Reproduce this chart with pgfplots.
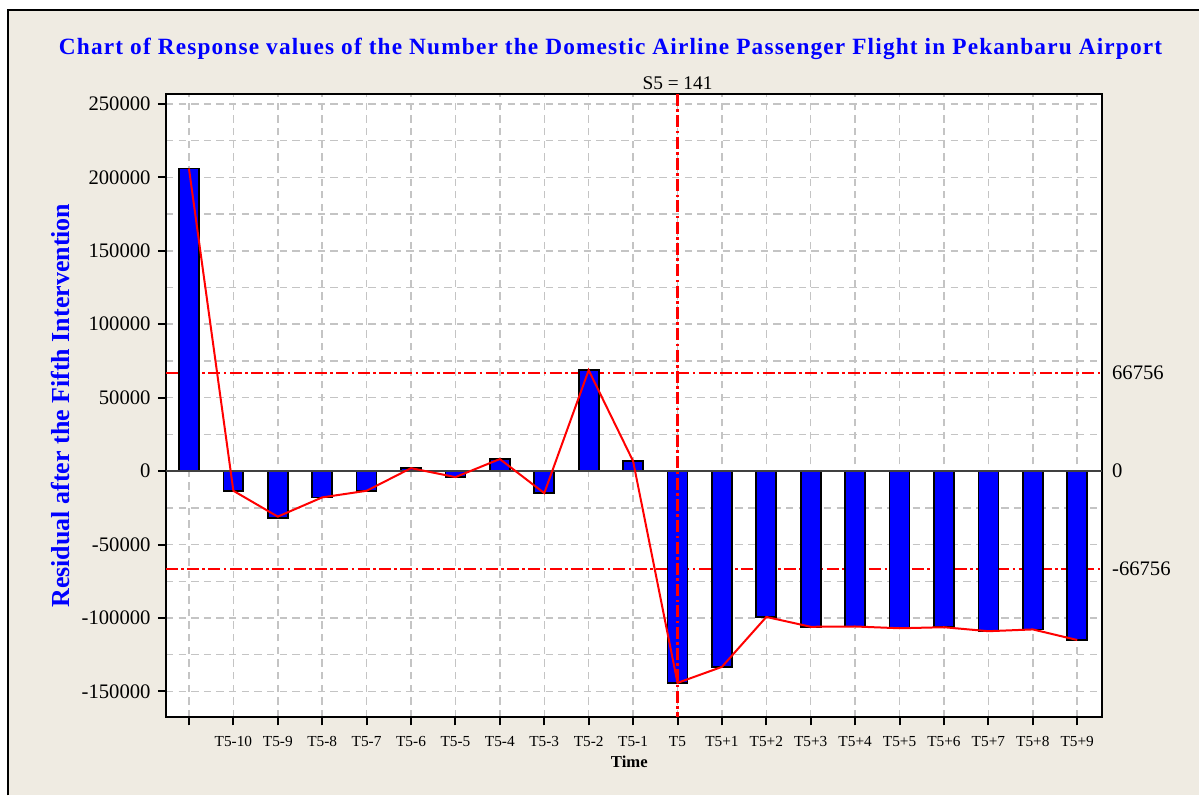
\documentclass[border=0pt]{standalone}
\usepackage{pgfplots}
\pgfplotsset{compat=1.18}
\usepackage{fontspec}
\setmainfont{Liberation Serif}
\definecolor{bgbeige}{RGB}{239,235,226}
\definecolor{gridgray}{RGB}{196,196,196}
\definecolor{zeroline}{RGB}{64,64,64}
\definecolor{pured}{RGB}{255,0,0}
\begin{document}
\begin{tikzpicture}[x=0.75pt,y=0.75pt]
\fill[white] (0,0) rectangle (1200,796);
\fill[bgbeige] (8,0) rectangle (1200,786);
\draw[black, line width=1.5pt] (8,0) -- (8,786) -- (1200,786);
\useasboundingbox (0,0) rectangle (1200,796);
\begin{axis}[
  at={(124.5pt,58.5pt)}, anchor=south west,
  width=702.75pt, height=468pt, scale only axis,
  xmin=-0.52, xmax=20.56, ymin=-167700, ymax=256800,
  axis background/.style={fill=white},
  axis line style={black, line width=1.5pt},
  xtick={0,...,20},
  xticklabels={,T5-10,T5-9,T5-8,T5-7,T5-6,T5-5,T5-4,T5-3,T5-2,T5-1,T5,T5+1,T5+2,T5+3,T5+4,T5+5,T5+6,T5+7,T5+8,T5+9},
  ytick={-150000,-100000,...,250000},
  minor ytick={-125000,-75000,-25000,25000,75000,125000,175000,225000},
  minor tick length=0pt,
  major tick length=6pt,
  tick align=outside,
  xtick pos=bottom, ytick pos=left,
  tick style={black, line width=1.5pt},
  grid=both,
  major grid style={gridgray, line width=1.1pt, dash pattern=on 5.5pt off 4pt},
  minor grid style={gridgray, line width=1.1pt, dash pattern=on 5.5pt off 4pt},
  scaled y ticks=false,
  /pgf/number format/.cd, 1000 sep={}, fixed, assume math mode=true,
  /pgfplots/.cd,
  yticklabel style={font=\fontsize{15.5pt}{18pt}\selectfont, xshift=-2pt},
  xticklabel style={font=\fontsize{11.5pt}{13pt}\selectfont, yshift=-5pt},
  clip=false,
]
\draw[pured, line width=1.4pt, dash pattern=on 9pt off 2.5pt on 2pt off 2.5pt] (axis cs:-0.52,66756) -- (axis cs:20.56,66756);
\draw[pured, line width=1.4pt, dash pattern=on 9pt off 2.5pt on 2pt off 2.5pt] (axis cs:-0.52,-66756) -- (axis cs:20.56,-66756);
\addplot[ybar, bar width=15pt, bar shift=0pt, fill=blue, draw=black, line width=1.3pt] coordinates {
(0,206000) (1,-13400) (2,-32000) (3,-17900) (4,-13400) (5,2000) (6,-4100) (7,8200) (8,-15000) (9,68700) (10,6800)
(11,-144200) (12,-133300) (13,-99300) (14,-106000) (15,-105800) (16,-107000) (17,-106300) (18,-109000) (19,-107800) (20,-115000)
};
\draw[zeroline, line width=1.5pt] (axis cs:-0.52,0) -- (axis cs:20.56,0);
\draw[pured, line width=1.6pt, dash pattern=on 9pt off 2.5pt on 2pt off 2.5pt] (axis cs:11,256800) -- (axis cs:11,-167700);
\addplot[pured, line width=1.5pt, mark=none] coordinates {
(0,206000) (1,-13400) (2,-31000) (3,-17900) (4,-13400) (5,2000) (6,-4100) (7,8200) (8,-15000) (9,68700) (10,6800)
(11,-144200) (12,-133300) (13,-99300) (14,-106000) (15,-105800) (16,-107000) (17,-106300) (18,-109000) (19,-107800) (20,-115000)
};
\node[anchor=west, font=\fontsize{15.5pt}{18pt}\selectfont] at (axis cs:20.56,66756) {\hspace{4pt}66756};
\node[anchor=west, font=\fontsize{15.5pt}{18pt}\selectfont] at (axis cs:20.56,0) {\hspace{4pt}0};
\node[anchor=west, font=\fontsize{15.5pt}{18pt}\selectfont] at (axis cs:20.56,-66756) {\hspace{4pt}-66756};
\node[anchor=south, font=\fontsize{14.5pt}{17pt}\selectfont, inner sep=3pt] at (axis cs:11,256800) {S5 = 141};
\node[font=\fontsize{17.5pt}{20pt}\selectfont\bfseries, text=blue] at (axis description cs:0.475,1.072) {\addfontfeature{LetterSpace=5}Chart of Response values of the Number the Domestic Airline Passenger Flight in Pekanbaru Airport};
\node[rotate=90, font=\fontsize{19.5pt}{22pt}\selectfont\bfseries, text=blue] at (axis description cs:-0.113,0.5) {Residual after the Fifth Intervention};
\node[font=\fontsize{12.5pt}{14pt}\selectfont\bfseries] at (axis description cs:0.495,-0.0705) {Time};
\end{axis}
\end{tikzpicture}
\end{document}
